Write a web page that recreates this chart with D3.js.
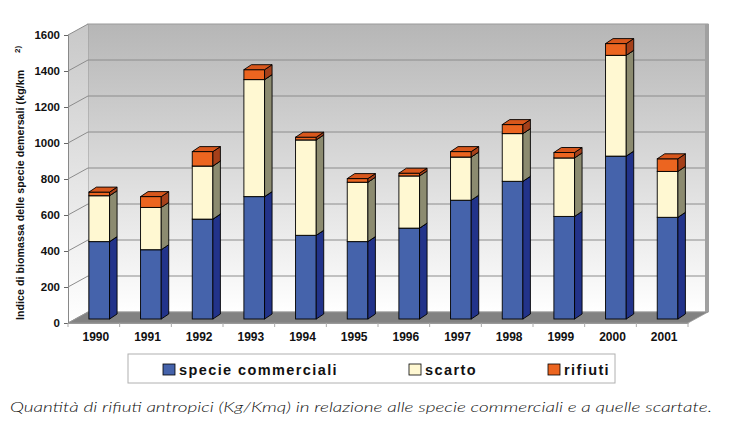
<!DOCTYPE html>
<html>
<head>
<meta charset="utf-8">
<script src="https://cdn.jsdelivr.net/npm/d3@7"></script>
<style>
  body { margin: 0; background: #fff; }
  svg { display: block; }
</style>
</head>
<body>
<figure id="stackedBar" style="margin:0"></figure>
<script>
// data
const years = ["1990","1991","1992","1993","1994","1995","1996","1997","1998","1999","2000","2001"];
const commerciali = [430, 385, 555, 680, 465, 430, 505, 660, 765, 570, 905, 565];
const scarto      = [255, 235, 295, 650, 530, 330, 290, 240, 265, 325, 560, 255];
const rifiuti     = [20, 60, 80, 55, 15, 20, 15, 30, 50, 30, 65, 70];
const yTicks = [0, 200, 400, 600, 800, 1000, 1200, 1400, 1600];
const seriesNames = ["specie commerciali", "scarto", "rifiuti"];

const width = 745, height = 423;
// front plane of the 3d box, and the depth shift to the back wall
const front = {left: 68, right: 688, bottom: 323};
const depth = {dx: 20, dy: -11};
const barDepth = {dx: 7.5, dy: -5};
const colors = [
  {front: "#4563ab", side: "#22338a", top: "#5674bd"},
  {front: "#fff8d2", side: "#8c8b70", top: "#fffbe4"},
  {front: "#ec6520", side: "#a5401a", top: "#d8571c"}
];

const svg = d3.select("figure#stackedBar").append("svg")
  .attr("width", width).attr("height", height);

const yFront = d3.scaleLinear().domain([0, 1600]).range([front.bottom, front.bottom - 288]);
const yBack = v => yFront(v) + depth.dy;
const yBar = v => yFront(v) - 4;

const xBand = d3.scaleBand().domain(years).range([front.left, front.right]).padding(0);
const xBar = d3.scaleBand().domain(years).range([front.left, front.right])
  .paddingInner(0.6).paddingOuter(0.3);

// gradients
const defs = svg.append("defs");
const g1 = defs.append("linearGradient").attr("id", "wall").attr("x1", 0).attr("y1", 0).attr("x2", 0).attr("y2", 1);
g1.append("stop").attr("offset", "0%").attr("stop-color", "#b6b6b6");
g1.append("stop").attr("offset", "55%").attr("stop-color", "#dedede");
g1.append("stop").attr("offset", "100%").attr("stop-color", "#ffffff");
const g2 = defs.append("linearGradient").attr("id", "side").attr("x1", 0).attr("y1", 0).attr("x2", 0).attr("y2", 1);
g2.append("stop").attr("offset", "0%").attr("stop-color", "#c8c8c8");
g2.append("stop").attr("offset", "100%").attr("stop-color", "#ffffff");

function createWalls() {
  const bx0 = front.left + depth.dx, bx1 = front.right + depth.dx;
  // back wall
  svg.append("rect").attr("x", bx0).attr("y", yBack(1600))
    .attr("width", bx1 - bx0).attr("height", yBack(0) - yBack(1600))
    .attr("fill", "url(#wall)").attr("stroke", "#9a9a9a").attr("stroke-width", 1);
  svg.append("rect").attr("x", bx1 - 3).attr("y", yBack(1600))
    .attr("width", 4).attr("height", yBack(0) - yBack(1600)).attr("fill", "#a0a0a0");
  // left wall
  svg.append("polygon")
    .attr("points", [[front.left, yFront(1600)], [bx0, yBack(1600)], [bx0, yBack(0)], [front.left, yFront(0)]].join(" "))
    .attr("fill", "url(#side)");
  // gridlines
  yTicks.forEach(v => {
    if (v > 0 && v < 1600) {
      svg.append("line").attr("x1", bx0).attr("x2", bx1 - 3).attr("y1", yBack(v)).attr("y2", yBack(v))
        .attr("stroke", "#8c8c8c").attr("stroke-width", 1);
    }
    svg.append("line").attr("x1", front.left).attr("x2", bx0).attr("y1", yFront(v)).attr("y2", yBack(v))
      .attr("stroke", "#8c8c8c").attr("stroke-width", 1);
  });
  // floor
  svg.append("polygon")
    .attr("points", [[front.left, yFront(0)], [front.right, yFront(0)], [bx1, yBack(0)], [bx0, yBack(0)]].join(" "))
    .attr("fill", "#828282").attr("stroke", "#9a9a9a").attr("stroke-width", 0.8);
}

function createAxes() {
  const yAxis = svg.append("g").attr("transform", `translate(${front.left},0)`)
    .call(d3.axisLeft(yFront).tickValues(yTicks).tickSize(4).tickPadding(4).tickFormat(d3.format("d")));
  yAxis.select(".domain").attr("stroke", "#888");
  yAxis.selectAll(".tick line").attr("stroke", "#666");
  yAxis.selectAll("text").attr("font-family", "Liberation Sans, Arial, sans-serif")
    .attr("font-weight", "bold").attr("font-size", "11.5px").attr("fill", "#111");

  const xAxis = svg.append("g").attr("transform", `translate(0,${front.bottom})`)
    .call(d3.axisBottom(xBand).tickSize(0).tickPadding(9));
  xAxis.select(".domain").attr("stroke", "#999");
  xAxis.selectAll("text").attr("font-family", "Liberation Sans, Arial, sans-serif")
    .attr("font-weight", "bold").attr("font-size", "12px").attr("fill", "#111")
    .attr("dx", 2);
  // tick marks at band boundaries
  svg.append("g").selectAll("line").data(years.concat(["end"])).join("line")
    .attr("x1", (d, i) => front.left + i * xBand.step())
    .attr("x2", (d, i) => front.left + i * xBand.step())
    .attr("y1", front.bottom).attr("y2", front.bottom + 4)
    .attr("stroke", "#aaa");

  // y title, with the superscript set apart as in the original
  svg.append("text")
    .attr("transform", "translate(24,320) rotate(-90)")
    .attr("font-family", "Liberation Sans, Arial, sans-serif")
    .attr("font-weight", "bold").attr("font-size", "10.5px").attr("fill", "#111")
    .attr("textLength", 250).attr("lengthAdjust", "spacing")
    .text("Indice di biomassa delle specie demersali (kg/km");
  svg.append("text")
    .attr("transform", "translate(20,53) rotate(-90)")
    .attr("font-family", "Liberation Sans, Arial, sans-serif")
    .attr("font-weight", "bold").attr("font-size", "8px").attr("fill", "#111")
    .text("2)");
}

function createBars() {
  const stacks = years.map((y, i) => {
    const vals = [commerciali[i], scarto[i], rifiuti[i]];
    let acc = 0;
    return vals.map((v, k) => { const s = {year: y, k: k, y0: acc, y1: acc + v}; acc += v; return s; });
  });
  const off = 4 * barDepth.dx / -barDepth.dy * 0.9;
  const g = svg.append("g");
  stacks.forEach(stack => {
    stack.forEach(s => {
      const x0 = xBar(s.year) + off, x1 = x0 + xBar.bandwidth();
      const t = yBar(s.y1), b = yBar(s.y0);
      const c = colors[s.k];
      g.append("rect").attr("x", x0).attr("y", t).attr("width", x1 - x0).attr("height", b - t)
        .attr("fill", c.front).attr("stroke", "#000").attr("stroke-width", 0.9);
      g.append("polygon")
        .attr("points", [[x1, t], [x1 + barDepth.dx, t + barDepth.dy], [x1 + barDepth.dx, b + barDepth.dy], [x1, b]].join(" "))
        .attr("fill", c.side).attr("stroke", "#000").attr("stroke-width", 0.9).attr("stroke-linejoin", "round");
      g.append("polygon")
        .attr("points", [[x0, t], [x0 + barDepth.dx, t + barDepth.dy], [x1 + barDepth.dx, t + barDepth.dy], [x1, t]].join(" "))
        .attr("fill", c.top).attr("stroke", "#000").attr("stroke-width", 0.9).attr("stroke-linejoin", "round");
    });
  });
}

function createLegend() {
  svg.append("rect").attr("x", 128).attr("y", 354).attr("width", 487).attr("height", 29)
    .attr("fill", "#fff").attr("stroke", "#b0b0b0");
  const pos = [163, 409, 548];
  const leg = svg.append("g").selectAll("g").data(seriesNames).join("g")
    .attr("transform", (d, i) => `translate(${pos[i]},364)`);
  leg.append("rect").attr("width", 12).attr("height", 11)
    .attr("fill", (d, i) => colors[i].front).attr("stroke", "#000").attr("stroke-width", 0.8);
  leg.append("text").attr("x", 16).attr("y", 10.5)
    .attr("font-family", "Liberation Sans, Arial, sans-serif")
    .attr("font-weight", "bold").attr("font-size", "14.5px").attr("letter-spacing", "1.4px")
    .attr("fill", "#111").text(d => d);
}

function createCaption() {
  svg.append("text").attr("x", 10).attr("y", 412)
    .attr("font-family", "Lato, 'Open Sans', sans-serif")
    .attr("font-style", "italic").attr("font-weight", 300).attr("font-size", "14.5px")
    .attr("fill", "#111")
    .attr("textLength", 702).attr("lengthAdjust", "spacingAndGlyphs")
    .text("Quantità di rifiuti antropici (Kg/Kmq) in relazione alle specie commerciali e a quelle scartate.");
}

createWalls();
createAxes();
createBars();
createLegend();
createCaption();
</script>
</body>
</html>
